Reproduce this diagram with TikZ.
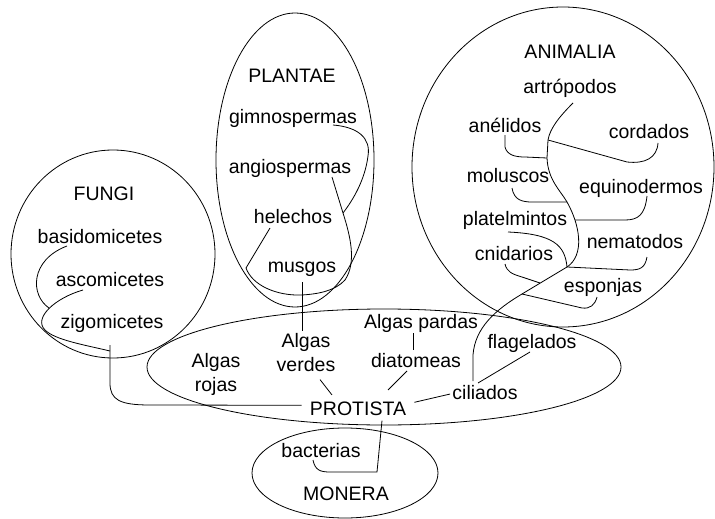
\documentclass[tikz,border=0pt]{standalone}
\usepackage{fontspec}
\setmainfont{Liberation Sans}
\tikzset{
  taxon/.style={font=\fontsize{19.5}{24}\selectfont, inner sep=2pt, anchor=base},
  twoline/.style={taxon, anchor=center, align=center},
}
\begin{document}
\begin{tikzpicture}[x=1pt, y=-1pt, line width=0.8pt]
    \useasboundingbox (0,0) rectangle (715,519);
    % reinos
    \draw (113,254) ellipse [x radius=102, y radius=104];
    \draw (295,160) ellipse [x radius=79, y radius=147];
    \draw (563,167) ellipse [x radius=151, y radius=160];
    \draw (384,367) ellipse [x radius=237, y radius=58];
    \draw (345,473) ellipse [x radius=93, y radius=45];
    % fungi
    \node[taxon] (fungi) at (104,200) {FUNGI};
    \node[taxon] (basido) at (100,243) {basidomicetes};
    \node[taxon] (asco) at (110,286) {ascomicetes};
    \node[taxon] (zigo) at (112,328) {zigomicetes};
    % plantae
    \node[taxon] (plantae) at (292,82) {PLANTAE};
    \node[taxon] (gimno) at (293,123) {gimnospermas};
    \node[taxon] (angio) at (290,173) {angiospermas};
    \node[taxon] (helechos) at (293,223) {helechos};
    \node[taxon] (musgos) at (302,272) {musgos};
    % animalia
    \node[taxon] (animalia) at (570,59) {ANIMALIA};
    \node[taxon] (artro) at (570,93) {artrópodos};
    \node[taxon] (anelidos) at (505,132) {anélidos};
    \node[taxon] (cordados) at (649,138) {cordados};
    \node[taxon] (moluscos) at (508,182) {moluscos};
    \node[taxon] (equino) at (641,193) {equinodermos};
    \node[taxon] (platel) at (515,225) {platelmintos};
    \node[taxon] (nemato) at (635,248) {nematodos};
    \node[taxon] (cnid) at (514,260) {cnidarios};
    \node[taxon] (espon) at (603,292) {esponjas};
    % protista
    \node[taxon] (pardas) at (421,328) {Algas pardas};
    \node[taxon] (flag) at (532,348) {flagelados};
    \node[twoline] (verdes) at (306,353) {Algas\\verdes};
    \node[twoline] (rojas) at (216,374) {Algas\\rojas};
    \node[taxon] (diatom) at (416,367) {diatomeas};
    \node[taxon] (cilia) at (485,399) {ciliados};
    \node[taxon, inner xsep=8pt, inner ysep=5pt] (protista) at (358,415) {PROTISTA};
    % monera
    \node[taxon] (bact) at (321,457) {bacterias};
    \node[taxon] (monera) at (346,500) {MONERA};

    \coordinate (fj) at (110,351);
    \coordinate (fj2) at (49,308);
    \draw ([shift={(-33,3)}]basido.base) .. controls (30,260) and (30,295) .. (fj2);
    \draw ([shift={(-27,4)}]asco.base) .. controls (55,298) and (33,318) .. (45,330) .. controls (55,340) and (85,345) .. (fj);
    \draw ([shift={(-2,17)}]zigo.base) -- (110,383) .. controls (110,400) and (120,405) .. (150,405) -- ([yshift=3pt]protista.west);

    \coordinate (pj1) at (343,213);
    \coordinate (pj) at (302,295);
    \draw ([shift={(40,2)}]gimno.base) .. controls (358,127) and (371,138) .. (368,156) .. controls (365,180) and (353,200) .. (pj1);
    \draw ([shift={(42,4)}]angio.base) -- (pj1) .. controls (350,235) and (357,262) .. (345,280) .. controls (335,291) and (318,294) .. (pj);
    \draw ([shift={(-23,5)}]helechos.base) -- (246,268) .. controls (252,285) and (276,296) .. (pj);
    \draw ([yshift=-10pt]musgos.base) -- (verdes.north -| musgos.base);

    \coordinate (aj1) at (548,140);
    \coordinate (aj2) at (547,158);
    \coordinate (aj3) at (567,202);
    \coordinate (aj7) at (575,220);
    \coordinate (aj4) at (567,267);
    \coordinate (aj5) at (540,283);
    \coordinate (aj6) at (522,294);
    \draw ([shift={(3,10)}]artro.base) .. controls (560,116) and (550,128) .. (aj1) -- (aj2)
        .. controls (548,180) and (560,190) .. (aj3) .. controls (580,225) and (585,255) .. (aj4) -- (aj6)
        .. controls (495,310) and (475,328) .. (473,355) -- ([shift={(-12,-18)}]cilia.base);
    \draw ([yshift=-3pt]anelidos.base) -- (505,147) .. controls (507,155) and (515,157) .. (525,157) -- (aj2);
    \draw ([shift={(9,5)}]cordados.base) .. controls (657,158) and (645,164) .. (627,162) -- (aj1);
    \draw ([shift={(4,6)}]moluscos.base) .. controls (514,200) and (522,202) .. (532,202) -- (aj3);
    \draw ([shift={(6,3)}]equino.base) .. controls (645,215) and (638,220) .. (625,220) -- (aj7);
    \draw ([shift={(-7,7)}]platel.base) .. controls (553,234) and (565,245) .. (aj4);
    \draw ([shift={(12,9)}]nemato.base) .. controls (645,268) and (640,270) .. (630,270) -- (aj4);
    \draw ([shift={(-9,4)}]cnid.base) .. controls (507,272) and (512,274) .. (522,277) -- (aj5);
    \draw ([shift={(-6,5)}]espon.base) .. controls (595,305) and (590,309) .. (582,308) -- (aj6);

    \draw ([shift={(-8,5)}]pardas.base) -- ([xshift=-3pt]diatom.north);
    \draw ([shift={(-9,4)}]diatom.base) -- ([shift={(30,-6)}]protista.north);
    \draw ([shift={(14,5)}]verdes.south) -- ([shift={(-26,-1)}]protista.north);
    \draw ([shift={(-2,4)}]flag.base) -- ([shift={(-7,-16)}]cilia.base);
    \draw ([yshift=-2pt]cilia.west) -- ([yshift=6pt]protista.east);

    \coordinate (mj) at (377,472);
    \draw ([shift={(-8,3)}]bact.base) .. controls (315,470) and (320,472) .. (330,472) -- (mj) -- ([xshift=24pt]protista.south);
\end{tikzpicture}
\end{document}
